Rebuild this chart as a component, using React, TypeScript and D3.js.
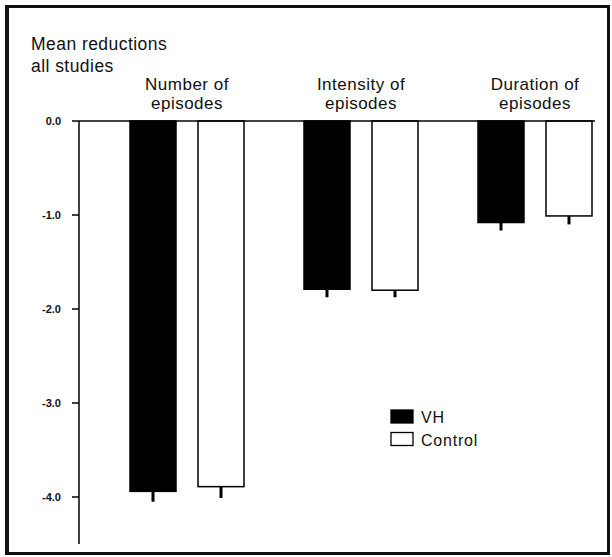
import React from "react";
import * as d3 from "d3";

const categoryLine1 = ["Number of", "Intensity of", "Duration of"];
const categoryLine2 = ["episodes", "episodes", "episodes"];
const seriesNames = ["VH", "Control"];
const vhMeans = [-3.94, -1.79, -1.08];
const controlMeans = [-3.89, -1.8, -1.01];
const vhErrors = [0.11, 0.085, 0.085];
const controlErrors = [0.12, 0.075, 0.09];
const yTicks = [0, -1, -2, -3, -4];
const titleLines = ["Mean reductions", "all studies"];

const W = 612;
const H = 557;
const FONT = "'Liberation Sans', Arial, Helvetica, sans-serif";

export default function App() {
  const y = d3.scaleLinear().domain([-4.5, 0]).range([544, 121]);
  const axisX = 79;
  const x0 = d3.scaleBand<string>().domain(categoryLine1).range([100, 622]).padding(0);
  const x1 = d3.scaleBand<string>().domain(seriesNames).range([-57, 57]).paddingInner(0.3235).paddingOuter(0);
  const series = [
    { name: "VH", means: vhMeans, errs: vhErrors, fill: "#000" },
    { name: "Control", means: controlMeans, errs: controlErrors, fill: "#fff" },
  ];
  const fmt = (v: number) => d3.format(".1f")(v).replace("\u2212", "-");
  return (
    <svg width={W} height={H} style={{ position: "absolute", left: 0, top: 0, background: "#fff" }} fontFamily={FONT}>
      <rect x={0} y={0} width={W} height={H} fill="#fff" />
      {/* frame */}
      <rect x={6.5} y={6.5} width={602} height={547} fill="none" stroke="#111" strokeWidth={3} />
      <line x1={7} x2={7} y1={6} y2={554} stroke="#111" strokeWidth={4} />
      {/* title */}
      {titleLines.map((t, i) => (
        <text key={t} x={31} y={50 + i * 22} fontSize={17.5} letterSpacing={0.45} fill="#111">
          {t}
        </text>
      ))}
      {/* category labels */}
      {categoryLine1.map((c, i) => {
        const cx = (x0(c) as number) + x0.bandwidth() / 2;
        return (
          <g key={c}>
            <text x={cx} y={90} textAnchor="middle" fontSize={17} letterSpacing={0.5} fill="#111">
              {c}
            </text>
            <text x={cx} y={109} textAnchor="middle" fontSize={17} letterSpacing={0.5} fill="#111">
              {categoryLine2[i]}
            </text>
          </g>
        );
      })}
      {/* bars */}
      {categoryLine1.map((c, i) => {
        const cx = (x0(c) as number) + x0.bandwidth() / 2;
        return (
          <g key={"g" + c}>
            {series.map((s) => {
              const bx = cx + (x1(s.name) as number);
              const v = s.means[i];
              const ec = bx + x1.bandwidth() / 2;
              return (
                <g key={s.name}>
                  <line x1={ec} x2={ec} y1={y(v)} y2={y(v - s.errs[i])} stroke="#000" strokeWidth={3} />
                  <rect
                    x={bx}
                    y={y(0)}
                    width={x1.bandwidth()}
                    height={y(v) - y(0)}
                    fill={s.fill}
                    stroke="#000"
                    strokeWidth={1.5}
                  />
                </g>
              );
            })}
          </g>
        );
      })}
      {/* zero line */}
      <line x1={axisX} x2={595} y1={y(0)} y2={y(0)} stroke="#000" strokeWidth={1.5} />
      {/* y axis */}
      <line x1={axisX} x2={axisX} y1={y(0)} y2={y(-4.5)} stroke="#000" strokeWidth={1.5} />
      {yTicks.map((t) => (
        <g key={t}>
          <line x1={axisX - 7} x2={axisX} y1={y(t)} y2={y(t)} stroke="#000" strokeWidth={1.5} />
          <text x={61} y={y(t) + 4} textAnchor="end" fontSize={11} fontWeight="bold" fill="#111">
            {fmt(t)}
          </text>
        </g>
      ))}
      {/* legend */}
      {series.map((s, i) => (
        <g key={"leg" + s.name} transform={`translate(391, ${410 + i * 22.5})`}>
          <rect x={0} y={0} width={22} height={13} fill={s.fill} stroke="#000" strokeWidth={1.3} />
          <text x={30} y={13} fontSize={16} letterSpacing={0.8} fill="#111">
            {s.name}
          </text>
        </g>
      ))}
    </svg>
  );
}
